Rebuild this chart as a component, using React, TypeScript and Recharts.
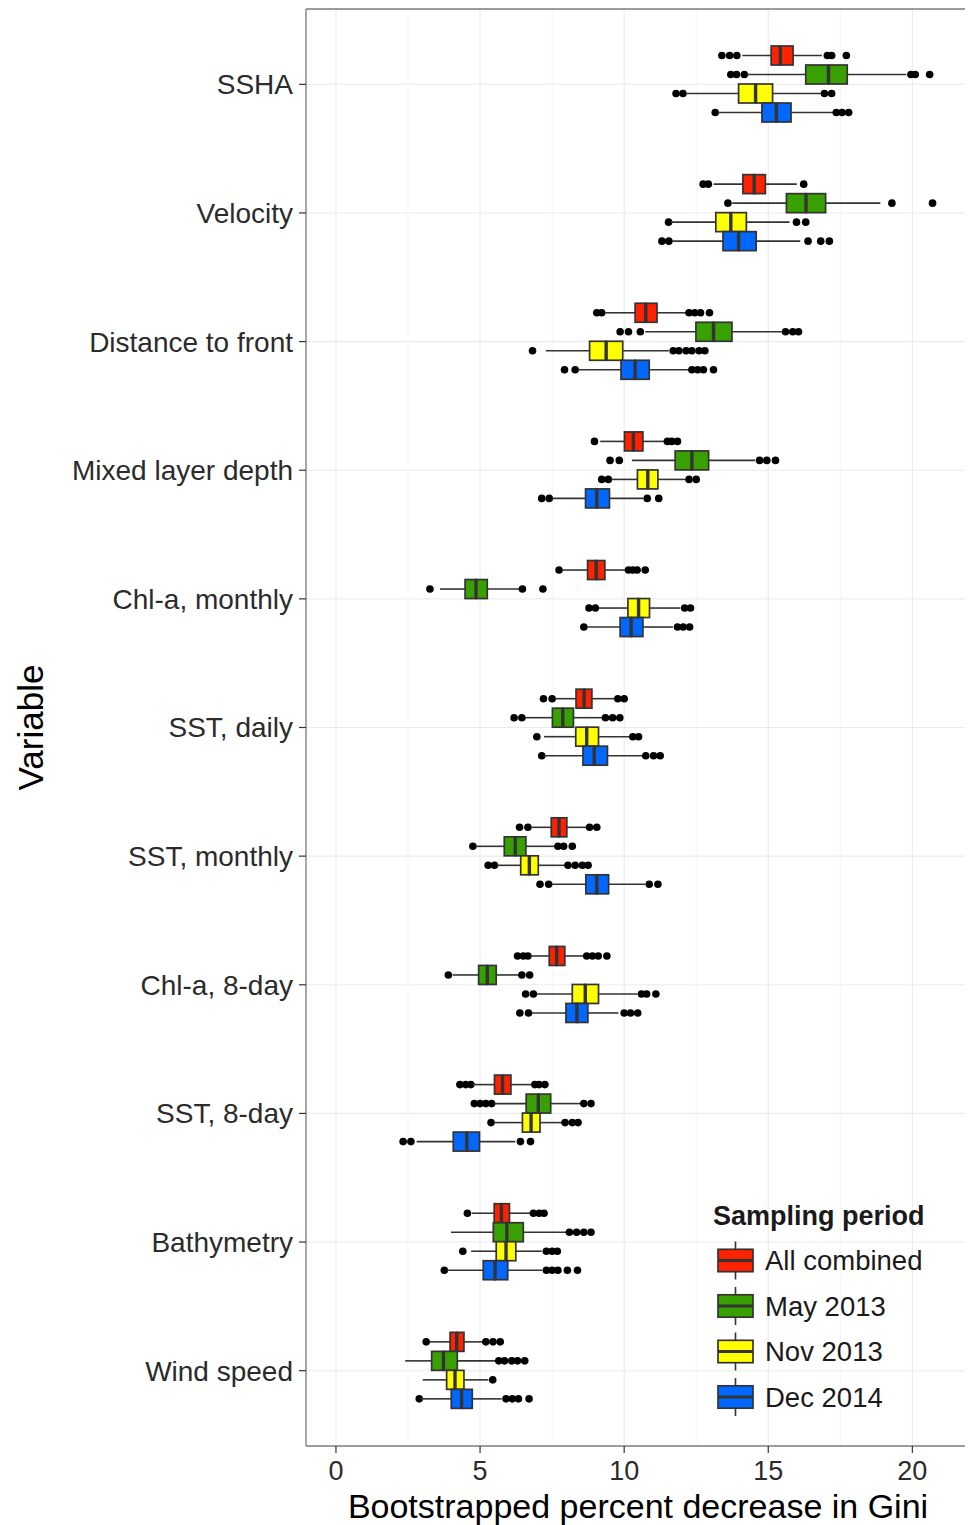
import React from 'react';
import { ComposedChart, Bar, XAxis, YAxis, CartesianGrid, Legend } from 'recharts';

// ---------- data ----------
const variables = [
  'SSHA', 'Velocity', 'Distance to front', 'Mixed layer depth', 'Chl-a, monthly',
  'SST, daily', 'SST, monthly', 'Chl-a, 8-day', 'SST, 8-day', 'Bathymetry', 'Wind speed',
];

const groupNames = ['All combined', 'May 2013', 'Nov 2013', 'Dec 2014'];
const groupColors = ['#FF2200', '#38A000', '#FFFF00', '#0068FF'];

// [lower whisker, Q1, median, Q3, upper whisker]
const allCombinedBoxes = [
  [14.1, 15.1, 15.42, 15.86, 16.86],
  [13.1, 14.12, 14.51, 14.9, 15.99],
  [9.34, 10.38, 10.75, 11.14, 12.18],
  [9.17, 10.01, 10.32, 10.65, 11.42],
  [7.85, 8.73, 9.03, 9.33, 10.09],
  [7.6, 8.33, 8.61, 8.88, 9.69],
  [6.8, 7.47, 7.74, 8.01, 8.7],
  [6.74, 7.4, 7.66, 7.94, 8.62],
  [4.75, 5.5, 5.78, 6.07, 6.77],
  [4.71, 5.49, 5.74, 6.02, 6.74],
  [3.26, 3.96, 4.19, 4.44, 5.1],
];
const allCombinedOutliers = [
  [13.39, 13.66, 13.91, 17.05, 17.2, 17.71],
  [12.74, 12.92, 16.23],
  [9.05, 9.22, 12.25, 12.45, 12.65, 12.96],
  [8.97, 11.5, 11.65, 11.85],
  [7.74, 10.15, 10.3, 10.45, 10.73],
  [7.2, 7.5, 9.78, 10.0],
  [6.37, 6.66, 8.8, 9.05],
  [6.3, 6.5, 6.66, 8.7, 8.9, 9.1, 9.4],
  [4.3, 4.5, 4.68, 6.9, 7.05, 7.25],
  [4.56, 6.85, 7.05, 7.22],
  [3.13, 5.2, 5.45, 5.7],
];

const may2013Boxes = [
  [14.26, 16.3, 17.09, 17.74, 19.79],
  [13.75, 15.63, 16.31, 16.99, 18.89],
  [10.73, 12.49, 13.1, 13.74, 15.5],
  [10.27, 11.77, 12.35, 12.93, 14.55],
  [3.61, 4.48, 4.86, 5.25, 6.4],
  [6.56, 7.51, 7.87, 8.24, 9.26],
  [4.85, 5.84, 6.22, 6.59, 7.6],
  [4.05, 4.95, 5.25, 5.56, 6.39],
  [5.5, 6.6, 7.02, 7.45, 8.47],
  [3.99, 5.46, 5.93, 6.5, 8.01],
  [2.4, 3.32, 3.73, 4.21, 5.55],
];
const may2013Outliers = [
  [13.7, 13.9, 14.17, 19.95, 20.1, 20.6],
  [13.6, 19.29, 20.7],
  [9.86, 10.15, 10.56, 15.6, 15.85, 16.05],
  [9.51, 9.83, 14.7, 14.95, 15.25],
  [3.26, 6.47, 7.18],
  [6.18, 6.45, 9.35, 9.6, 9.85],
  [4.75, 7.7, 7.9, 8.2],
  [3.9, 6.45, 6.72],
  [4.8, 5.0, 5.2, 5.4, 8.6, 8.85],
  [8.1, 8.35, 8.6, 8.85],
  [5.65, 5.85, 6.1, 6.3, 6.55],
];

const nov2013Boxes = [
  [12.18, 13.97, 14.56, 15.15, 16.86],
  [11.62, 13.18, 13.7, 14.24, 15.74],
  [7.28, 8.8, 9.375, 9.95, 11.55],
  [9.55, 10.46, 10.82, 11.17, 12.12],
  [9.12, 10.13, 10.5, 10.88, 11.95],
  [7.22, 8.32, 8.7, 9.11, 10.21],
  [5.58, 6.41, 6.71, 7.02, 7.95],
  [6.97, 8.2, 8.65, 9.11, 10.46],
  [5.5, 6.47, 6.77, 7.08, 7.84],
  [4.69, 5.56, 5.9, 6.24, 7.14],
  [3.01, 3.84, 4.13, 4.44, 5.29],
];
const nov2013Outliers = [
  [11.8, 12.04, 16.95, 17.2],
  [11.54, 15.98, 16.3],
  [6.82, 11.7, 11.9, 12.15, 12.35, 12.6, 12.8],
  [9.22, 9.45, 12.25, 12.5],
  [8.78, 9.0, 12.1, 12.3],
  [6.97, 10.3, 10.5],
  [5.28, 5.5, 8.05, 8.3, 8.55, 8.75],
  [6.58, 6.85, 10.6, 10.78, 11.1],
  [5.38, 7.95, 8.2, 8.4],
  [4.4, 7.3, 7.5, 7.68],
  [5.44],
];

const dec2014Boxes = [
  [13.26, 14.78, 15.28, 15.79, 17.27],
  [11.66, 13.43, 13.97, 14.58, 16.11],
  [8.41, 9.89, 10.38, 10.87, 12.26],
  [7.52, 8.66, 9.05, 9.49, 10.67],
  [8.7, 9.86, 10.24, 10.65, 11.69],
  [7.2, 8.57, 8.96, 9.42, 10.67],
  [7.49, 8.67, 9.05, 9.46, 10.73],
  [6.8, 7.98, 8.36, 8.74, 9.8],
  [2.8, 4.07, 4.54, 4.98, 6.22],
  [3.85, 5.11, 5.52, 5.96, 7.15],
  [2.95, 4.0, 4.36, 4.73, 5.75],
];
const dec2014Outliers = [
  [13.16, 17.36, 17.56, 17.79],
  [11.31, 11.55, 16.38, 16.82, 17.12],
  [7.93, 8.3, 12.35, 12.55, 12.75, 13.1],
  [7.14, 7.4, 10.8, 11.2],
  [8.6, 11.85, 12.05, 12.27],
  [7.14, 10.75, 11.02, 11.25],
  [7.08, 7.38, 10.87, 11.17],
  [6.38, 6.68, 10.0, 10.22, 10.47],
  [2.33, 2.6, 6.4, 6.75],
  [3.76, 7.3, 7.5, 7.7, 8.03, 8.38],
  [2.89, 5.9, 6.12, 6.33, 6.7],
];

const xTicks = [0, 5, 10, 15, 20];
const xMinorTicks = [2.5, 7.5, 12.5, 17.5];
const xDomain: [number, number] = [-1.04, 22];

// ---------- table built for the library ----------
const groupBoxes = [allCombinedBoxes, may2013Boxes, nov2013Boxes, dec2014Boxes];
const groupOutliers = [allCombinedOutliers, may2013Outliers, nov2013Outliers, dec2014Outliers];

const lowsOf = (g: number, i: number) =>
  groupOutliers[g][i].filter((v) => v < groupBoxes[g][i][0]).sort((a, b) => a - b);
const highsOf = (g: number, i: number) =>
  groupOutliers[g][i].filter((v) => v > groupBoxes[g][i][4]).sort((a, b) => a - b);

const maxLow = Math.max(...groupBoxes.flatMap((b, g) => b.map((_, i) => lowsOf(g, i).length)));
const maxHigh = Math.max(...groupBoxes.flatMap((b, g) => b.map((_, i) => highsOf(g, i).length)));

const rows = variables.map((variable, i) => {
  const row: Record<string, any> = { variable };
  groupBoxes.forEach((boxes, g) => {
    const [lo, q1, med, q3, hi] = boxes[i];
    const lows = lowsOf(g, i);
    const highs = highsOf(g, i);
    let prev = 0;
    const pad = maxLow - lows.length;
    for (let k = 0; k < maxLow; k++) {
      const key = `g${g}_lo${k}`;
      if (k < pad) {
        row[key] = 0;
        row[key + '_on'] = false;
      } else {
        const v = lows[k - pad];
        row[key] = v - prev;
        row[key + '_on'] = true;
        prev = v;
      }
    }
    row[`g${g}_base`] = lo - prev;
    row[`g${g}_wl`] = q1 - lo;
    row[`g${g}_b1`] = med - q1;
    row[`g${g}_b2`] = q3 - med;
    row[`g${g}_wh`] = hi - q3;
    prev = hi;
    for (let k = 0; k < maxHigh; k++) {
      const key = `g${g}_hi${k}`;
      if (k < highs.length) {
        row[key] = highs[k] - prev;
        row[key + '_on'] = true;
        prev = highs[k];
      } else {
        row[key] = 0;
        row[key + '_on'] = false;
      }
    }
  });
  return row;
});

// ---------- styles ----------
const FONT = '"Liberation Sans", Arial, Helvetica, sans-serif';
const EDGE = '#333333';
const FRAME = '#7F7F7F';
const BAR_SIZE = 19;

const dotShape = (flag: string) => (p: any) =>
  p.payload && p.payload[flag] ? (
    <circle cx={p.x + p.width} cy={p.y + p.height / 2} r={3.8} fill="#000" />
  ) : (
    <g />
  );
const emptyShape = () => <g />;
const whiskerShape = (p: any) => (
  <line x1={p.x} x2={p.x + p.width} y1={p.y + p.height / 2} y2={p.y + p.height / 2} stroke={EDGE} strokeWidth={1.6} />
);
const boxShape = (color: string, median: boolean) => (p: any) => (
  <g>
    <rect x={p.x} y={p.y} width={p.width} height={p.height} fill={color} stroke={EDGE} strokeWidth={1.7} />
    {median ? <line x1={p.x} x2={p.x} y1={p.y} y2={p.y + p.height} stroke={EDGE} strokeWidth={3.4} /> : null}
  </g>
);

const buildSeries = () => {
  const out: React.ReactElement[] = [];
  groupNames.forEach((name, g) => {
    const stack = `s${g}`;
    const common = { stackId: stack, barSize: BAR_SIZE, isAnimationActive: false, legendType: 'none' as const };
    for (let k = 0; k < maxLow; k++) {
      const key = `g${g}_lo${k}`;
      out.push(<Bar key={key} dataKey={key} {...common} shape={dotShape(key + '_on')} />);
    }
    out.push(<Bar key={`g${g}_base`} dataKey={`g${g}_base`} {...common} shape={emptyShape} />);
    out.push(<Bar key={`g${g}_wl`} dataKey={`g${g}_wl`} {...common} shape={whiskerShape} />);
    out.push(<Bar key={`g${g}_b1`} dataKey={`g${g}_b1`} {...common} name={name} shape={boxShape(groupColors[g], false)} />);
    out.push(<Bar key={`g${g}_b2`} dataKey={`g${g}_b2`} {...common} shape={boxShape(groupColors[g], true)} />);
    out.push(<Bar key={`g${g}_wh`} dataKey={`g${g}_wh`} {...common} shape={whiskerShape} />);
    for (let k = 0; k < maxHigh; k++) {
      const key = `g${g}_hi${k}`;
      out.push(<Bar key={key} dataKey={key} {...common} shape={dotShape(key + '_on')} />);
    }
  });
  return out;
};

const renderLegend = () => (
  <svg width={250} height={235} style={{ display: 'block', overflow: 'visible', fontFamily: FONT }}>
    <text x={8} y={35} fontSize={27} fontWeight="bold" fill="#1a1a1a">Sampling period</text>
    {groupNames.map((name, i) => {
      const cy = 70.5 + i * 45.5;
      return (
        <g key={name}>
          <line x1={30.5} x2={30.5} y1={cy - 19} y2={cy + 19} stroke={EDGE} strokeWidth={1.6} />
          <rect x={13} y={cy - 11.2} width={35} height={22.4} fill={groupColors[i]} stroke={EDGE} strokeWidth={1.7} />
          <line x1={13} x2={48} y1={cy} y2={cy} stroke={EDGE} strokeWidth={3} />
          <text x={60} y={cy + 9.5} fontSize={27.5} fill="#1a1a1a">{name}</text>
        </g>
      );
    })}
  </svg>
);

const renderXTitle = (props: any) => {
  const vb = props.viewBox || {};
  return (
    <text x={vb.x + vb.width / 2} y={vb.y + 71.5} textAnchor="middle" fontSize={34} fill="#000" fontFamily={FONT}>
      Bootstrapped percent decrease in Gini
    </text>
  );
};

const renderYTitle = (props: any) => {
  const vb = props.viewBox || {};
  const cx = vb.x + 35;
  const cy = vb.y + vb.height / 2;
  return (
    <text x={cx} y={cy} textAnchor="middle" fontSize={35} fill="#000" fontFamily={FONT} transform={`rotate(-90 ${cx} ${cy})`}>
      Variable
    </text>
  );
};

export default function App() {
  return (
    <div style={{ width: 965, height: 1517, fontFamily: FONT }}>
      <ComposedChart
        width={965}
        height={1517}
        data={rows}
        layout="vertical"
        barGap={0}
        margin={{ top: 0, right: 0, bottom: 0, left: 0 }}
        style={{ fontFamily: FONT }}
      >
        <CartesianGrid stroke="#EBEBEB" strokeWidth={1.1} />
        <CartesianGrid xAxisId="minor" stroke="#F0F0F0" strokeWidth={0.7} horizontal={false} />
        <XAxis
          type="number"
          domain={xDomain}
          ticks={xTicks}
          allowDataOverflow
          axisLine={{ stroke: FRAME, strokeWidth: 1.3 }}
          tickSize={7}
          tickMargin={8}
          tickLine={{ stroke: EDGE, strokeWidth: 1.2 }}
          tick={{ fontSize: 27, fill: '#2b2b2b', fontFamily: FONT }}
          height={79}
          label={renderXTitle}
        />
        <XAxis xAxisId="minor" type="number" domain={xDomain} ticks={xMinorTicks} allowDataOverflow hide />
        <XAxis
          xAxisId="top"
          orientation="top"
          type="number"
          domain={xDomain}
          allowDataOverflow
          height={1}
          tick={false}
          tickLine={false}
          axisLine={{ stroke: FRAME, strokeWidth: 1.3 }}
        />
        <YAxis
          type="category"
          dataKey="variable"
          width={298}
          interval={0}
          axisLine={{ stroke: FRAME, strokeWidth: 1.3 }}
          tickSize={7}
          tickMargin={6}
          tickLine={{ stroke: EDGE, strokeWidth: 1.2 }}
          tick={{ fontSize: 28, fill: '#2b2b2b', fontFamily: FONT }}
          padding={{ top: 11, bottom: 11 }}
          label={renderYTitle}
        />
        <YAxis
          yAxisId="right"
          orientation="right"
          type="category"
          dataKey="variable"
          width={3}
          tick={false}
          tickLine={false}
          axisLine={{ stroke: FRAME, strokeWidth: 1.3 }}
        />
        {buildSeries()}
        <Legend
          layout="vertical"
          align="center"
          verticalAlign="middle"
          content={renderLegend}
          wrapperStyle={{ left: 697, top: 1182, width: 250, height: 235 }}
        />
      </ComposedChart>
    </div>
  );
}
